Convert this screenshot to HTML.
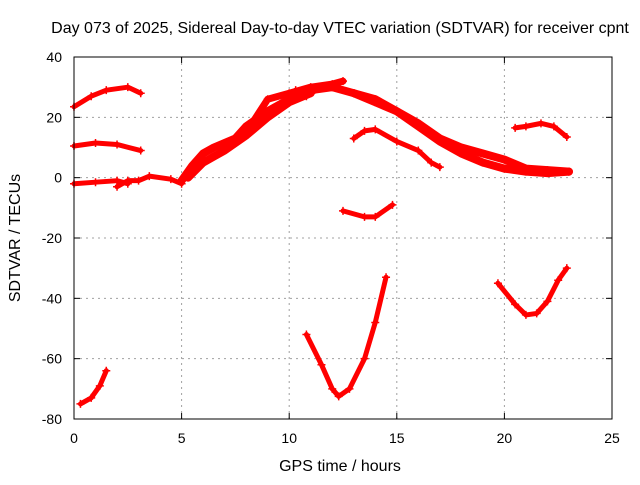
<!DOCTYPE html>
<html><head><meta charset="utf-8"><style>
body{margin:0;background:#fff}
svg text{font-family:"Liberation Sans",sans-serif;font-size:14px;fill:#000}
svg text.big{font-size:16px}
</style></head><body>
<svg id="chart" width="640" height="480" xmlns="http://www.w3.org/2000/svg">
<rect width="640" height="480" fill="#fff"/>
<g id="grid"></g>
<g id="series"></g>
<rect x="74" y="57" width="538" height="362" fill="none" stroke="#000" stroke-width="1"/>
<g id="axes"></g>
<text class="big" x="340" y="33" text-anchor="middle">Day 073 of 2025, Sidereal Day-to-day VTEC variation (SDTVAR) for receiver cpnt</text>
<text class="big" x="340" y="471" text-anchor="middle">GPS time / hours</text>
<text class="big" x="20" y="238" text-anchor="middle" transform="rotate(-90 20 238)">SDTVAR / TECUs</text>
</svg>
<script>
const xTicks=[0,5,10,15,20,25];
const yTicks=[40,20,0,-20,-40,-60,-80];
const track1=[[0,23.5],[0.8,27],[1.5,29],[2.5,30],[3.1,28]];
const track2=[[0,10.5],[1,11.5],[2,11],[3.1,9]];
const track3=[[0,-2],[1,-1.5],[2,-1],[2.5,-2]];
const track4=[[2,-3],[2.5,-1],[3,-1],[3.5,0.5],[4.5,-0.5],[5,-2]];
const track5=[[5,-1],[5.5,4],[6,8],[6.5,10],[7.5,13],[8,17],[9,22],[10,26],[11,29],[12,30]];
const track6=[[5.3,0],[6,5],[6.5,7],[7,9],[8,14],[9,20],[10,25],[11,28]];
const track7=[[8,15],[9,26],[10,28],[11,30],[12,31],[12.5,32]];
const track8=[[12,30],[13,28],[14,26],[15,22],[16,17],[17,12],[18,8],[19,5],[20,3],[21,2],[22,1.5],[23,2]];
const track9=[[13,28],[14,25],[15,22],[16,18],[17,13],[18,10],[19,8],[20,6],[21,3],[22,2.5],[23,2]];
const track10=[[10.3,29],[10.8,27],[11.5,30]];
const track11=[[13,13],[13.5,15.5],[14,16],[15,12],[16,9],[16.6,5],[17,3.5]];
const track12=[[12.5,-11],[13.5,-13],[14,-13],[14.8,-9]];
const track13=[[10.8,-52],[11.5,-62],[12,-70],[12.3,-72.5],[12.8,-70],[13.5,-60],[14,-48],[14.5,-33]];
const track14=[[19.7,-35],[20.5,-42],[21,-45.5],[21.5,-45],[22,-41],[22.5,-34],[22.9,-30]];
const track15=[[20.5,16.5],[21,17],[21.7,18],[22.3,17],[22.9,13.5]];
const track16=[[0.3,-75],[0.8,-73],[1.2,-69],[1.5,-64]];
const tracks=[track1,track2,track3,track4,track5,track6,track7,track8,track9,track10,track11,track12,track13,track14,track15,track16];
const widths=[5,5,5,5,8,8,7,8,8,5,5,5,5,5,5,5];
const NS="http://www.w3.org/2000/svg";
function xs(v){return 74+v*538/25;}
function ys(v){return 419-(v+80)*362/120;}
const grid=document.getElementById('grid'),axes=document.getElementById('axes'),ser=document.getElementById('series');
function mk(tag,attrs,parent){const e=document.createElementNS(NS,tag);for(const k in attrs)e.setAttribute(k,attrs[k]);parent.appendChild(e);return e;}
xTicks.forEach(t=>{const x=xs(t);
 if(t>0&&t<25){const g=mk('line',{x1:x,x2:x,y1:57,y2:419,stroke:'#a0a0a0','stroke-dasharray':'2,4'},grid);
 
 }
 mk('line',{x1:x,x2:x,y1:419,y2:413,stroke:'#000'},axes);mk('line',{x1:x,x2:x,y1:57,y2:63,stroke:'#000'},axes);
 const l=mk('text',{x:x,y:443,'text-anchor':'middle'},axes);l.textContent=t;
 
 });
yTicks.forEach(t=>{const y=ys(t);
 if(t>-80&&t<40){const g=mk('line',{x1:74,x2:612,y1:y,y2:y,stroke:'#a0a0a0','stroke-dasharray':'2,4'},grid);
 
 }
 mk('line',{x1:74,x2:80,y1:y,y2:y,stroke:'#000'},axes);mk('line',{x1:612,x2:606,y1:y,y2:y,stroke:'#000'},axes);
 const l=mk('text',{x:62,y:y+5,'text-anchor':'end'},axes);l.textContent=t;
 
 });
tracks.forEach((tr,i)=>{
 const p=mk('polyline',{points:tr.map(d=>xs(d[0])+','+ys(d[1])).join(' '),fill:'none',stroke:'#f00','stroke-width':widths[i],'stroke-linejoin':'round','stroke-linecap':'round'},ser);
 
 
 tr.forEach(d=>{const x=xs(d[0]),y=ys(d[1]);
  mk('path',{d:`M${x-4},${y}H${x+4}M${x},${y-4}V${y+4}`,stroke:'#f00','stroke-width':1.5},ser);});
});
</script>
</body></html>
